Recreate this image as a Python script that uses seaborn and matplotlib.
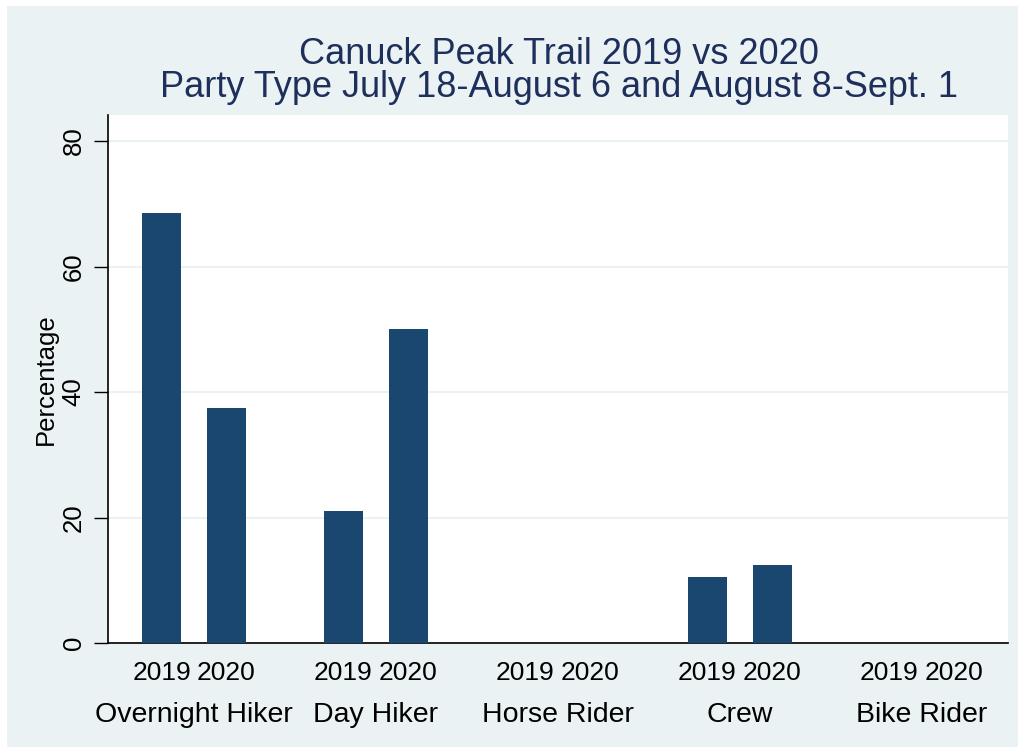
import numpy as np
import pandas as pd
import matplotlib
matplotlib.use('Agg')
import matplotlib.pyplot as plt
import matplotlib.transforms as mtransforms
from matplotlib.patches import Rectangle
import seaborn as sns

party_types = ['Overnight Hiker', 'Day Hiker', 'Horse Rider', 'Crew', 'Bike Rider']
years = ['2019', '2020']
pct_2019 = [68.5, 21.0, 0.0, 10.5, 0.0]
pct_2020 = [37.5, 50.0, 0.0, 12.5, 0.0]

title_1 = 'Canuck Peak Trail 2019 vs 2020'
title_2 = 'Party Type July 18-August 6 and August 8-Sept. 1'

bar_color = '#1a476f'
title_color = '#1f2f5c'
bg_color = '#eaf2f3'

df = pd.DataFrame({
    'party': party_types * 2,
    'year': ['2019'] * len(party_types) + ['2020'] * len(party_types),
    'pct': pct_2019 + pct_2020,
})

sns.set_style('white')
plt.rcParams['font.family'] = ['Liberation Sans', 'DejaVu Sans']
plt.rcParams['text.color'] = 'black'
plt.rcParams['axes.labelcolor'] = 'black'
plt.rcParams['xtick.color'] = 'black'
plt.rcParams['ytick.color'] = 'black'

fig = plt.figure(figsize=(10.22, 7.51), dpi=100)
fig.patch.set_facecolor('white')
bg = Rectangle((7 / 1022, 4 / 751), 1011 / 1022, 741 / 751,
               transform=fig.transFigure, facecolor=bg_color,
               edgecolor='none', zorder=-10)
fig.patches.append(bg)

ax = fig.add_axes([108 / 1022, 108 / 751, 900 / 1022, 528 / 751])
ax.set_zorder(1)
ax.set_facecolor('white')

width = 0.714
sns.barplot(data=df, x='party', y='pct', hue='year', order=party_types,
            hue_order=years, palette={'2019': bar_color, '2020': bar_color},
            saturation=1, width=width, gap=0.40, legend=False, ax=ax,
            linewidth=0, zorder=3)

ax.set_ylim(0, 84.15)
ax.set_xlim(-0.4725, 4.473)
ax.set_yticks([0, 20, 40, 60, 80])
ax.set_yticklabels(['0', '20', '40', '60', '80'], rotation=90, va='center', fontsize=18.5)
ax.tick_params(axis='y', length=10, width=1, color='black', labelcolor='black',
               pad=6, left=True)
ax.grid(axis='y', color=bg_color, linewidth=1.5, zorder=0)
ax.set_axisbelow(True)

# year labels under each bar
offs = width / 4
pos = []
labs = []
for i in range(len(party_types)):
    pos += [i - offs, i + offs]
    labs += years
ax.set_xticks(pos)
ax.set_xticklabels(labs, fontsize=19)
ax.tick_params(axis='x', length=0, pad=13, labelcolor='black')

trans = mtransforms.blended_transform_factory(ax.transData, fig.transFigure)
for i, name in enumerate(party_types):
    ax.text(i, 1 - 722 / 751, name, transform=trans, ha='center', va='baseline',
            fontsize=20.5, color='black')

ax.set_xlabel('')
ax.set_ylabel('Percentage', fontsize=18.5, labelpad=3, color='black')

for s in ['top', 'right']:
    ax.spines[s].set_visible(False)
for s in ['left', 'bottom']:
    ax.spines[s].set_color('black')
    ax.spines[s].set_linewidth(1.2)

fig.text(559 / 1022, 1 - 64 / 751, title_1, ha='center', va='baseline',
         fontsize=26, color=title_color)
fig.text(559 / 1022, 1 - 97 / 751, title_2, ha='center', va='baseline',
         fontsize=26, color=title_color)

fig.savefig('out.png', dpi=100, facecolor=fig.get_facecolor())
